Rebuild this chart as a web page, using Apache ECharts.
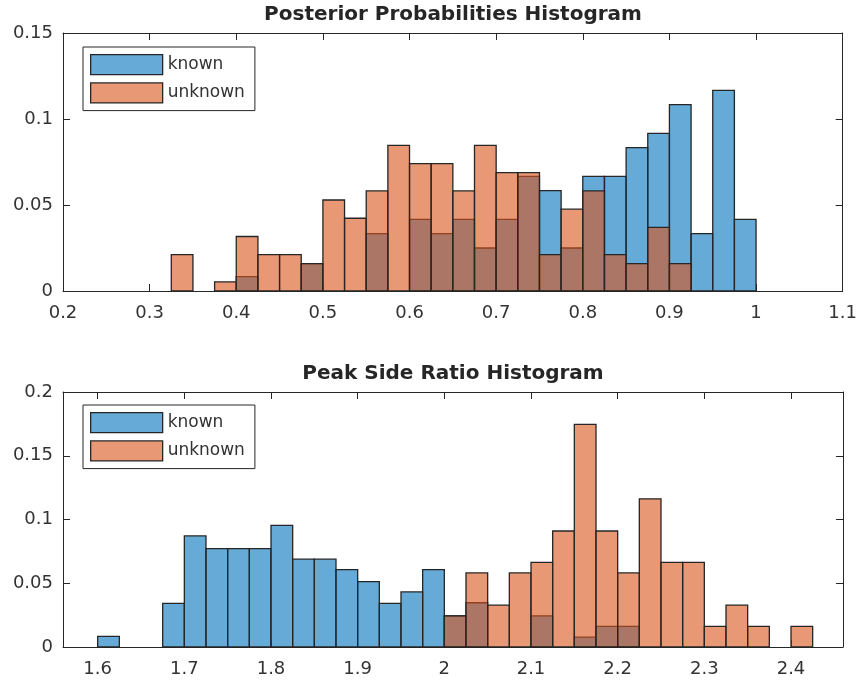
<!DOCTYPE html>
<html>
<head>
<meta charset="utf-8">
<script src="https://cdn.jsdelivr.net/npm/echarts@6/dist/echarts.min.js"></script>
<style>html,body{margin:0;padding:0;background:#fff}#chart{width:860px;height:685px}</style>
</head>
<body>
<div id="chart"></div>
<script>
// ---- Data ----
const seriesNames = ['known', 'unknown'];
const titles = ['Posterior Probabilities Histogram', 'Peak Side Ratio Histogram'];

// Posterior probabilities: bin starts (bin width 0.025) and normalized heights
const posteriorBins = [0.325,0.35,0.375,0.4,0.425,0.45,0.475,0.5,0.525,0.55,0.575,0.6,0.625,0.65,0.675,0.7,0.725,0.75,0.775,0.8,0.825,0.85,0.875,0.9,0.925,0.95,0.975];
const posteriorKnown = [0,0,0,0.0083,0,0,0.0159,0,0,0.0333,0,0.0417,0.0333,0.0417,0.025,0.0417,0.0667,0.0583,0.025,0.0667,0.0667,0.0833,0.0917,0.1083,0.0333,0.1167,0.0417];
const posteriorUnknown = [0.0212,0,0.0053,0.0317,0.0212,0.0212,0.0159,0.0529,0.0423,0.0582,0.0847,0.0741,0.0741,0.0582,0.0847,0.0688,0.0688,0.0212,0.0476,0.0582,0.0212,0.0159,0.037,0.0159,0,0,0];

// Peak side ratio
const ratioBins = [1.6,1.625,1.65,1.675,1.7,1.725,1.75,1.775,1.8,1.825,1.85,1.875,1.9,1.925,1.95,1.975,2.0,2.025,2.05,2.075,2.1,2.125,2.15,2.175,2.2,2.225,2.25,2.275,2.3,2.325,2.35,2.375,2.4];
const ratioKnown = [0.0083,0,0,0.0342,0.0871,0.0771,0.0771,0.0771,0.0954,0.0689,0.0689,0.0607,0.0512,0.0342,0.0432,0.0607,0.0244,0.0347,0,0,0.0244,0,0.0077,0.0162,0.0162,0,0,0,0,0,0,0,0];
const ratioUnknown = [0,0,0,0,0,0,0,0,0,0,0,0,0,0,0,0,0.0244,0.0581,0.0329,0.0581,0.0663,0.091,0.1746,0.091,0.0581,0.1162,0.0663,0.0663,0.0162,0.0329,0.0162,0,0.0162];

// Tick labels
const topXTicks = [0.2,0.3,0.4,0.5,0.6,0.7,0.8,0.9,1,1.1];
const topYTicks = [0,0.05,0.1,0.15];
const botXTicks = [1.6,1.7,1.8,1.9,2,2.1,2.2,2.3,2.4];
const botYTicks = [0,0.05,0.1,0.15,0.2];

// ---- Styling ----
const BIN_W = 0.025;
const FILL = ['rgba(0,114,189,0.6)', 'rgba(217,83,25,0.6)'];
const EDGE = '#262626';
const AX = '#262626';
const FONT = 'DejaVu Sans';

function renderer(fill) {
  return function (params, api) {
    const x0 = api.value(0), h = api.value(1);
    if (!(h > 0)) return null;
    const p0 = api.coord([x0, h]);
    const p1 = api.coord([x0 + BIN_W, 0]);
    return {
      type: 'rect',
      shape: { x: p0[0], y: p0[1], width: p1[0] - p0[0], height: p1[1] - p0[1] },
      style: { fill: fill, stroke: EDGE, lineWidth: 1.3 }
    };
  };
}

function pairs(bins, vals) { return bins.map((b, i) => [b, vals[i]]); }

function xAxisDef(grid, min, max, ticks, pos) {
  const isMain = pos === 'bottom';
  return {
    type: 'value', gridIndex: grid, min: min, max: max, position: pos,
    splitLine: { show: false },
    axisLine: { show: true, onZero: false, lineStyle: { color: AX, width: 1 } },
    axisTick: { show: true, inside: true, length: 7, customValues: ticks, lineStyle: { color: AX, width: 1 } },
    axisLabel: { show: isMain, customValues: ticks, margin: 13, color: '#333', fontFamily: FONT, fontSize: 18, formatter: v => String(v) }
  };
}
function yAxisDef(grid, min, max, ticks, pos) {
  const isMain = pos === 'left';
  return {
    type: 'value', gridIndex: grid, min: min, max: max, position: pos,
    splitLine: { show: false },
    axisLine: { show: true, onZero: false, lineStyle: { color: AX, width: 1 } },
    axisTick: { show: true, inside: true, length: 7, customValues: ticks, lineStyle: { color: AX, width: 1 } },
    axisLabel: { show: isMain, customValues: ticks, margin: 10, color: '#333', fontFamily: FONT, fontSize: 18, formatter: v => String(v) }
  };
}

function legendDef(top) {
  return {
    orient: 'vertical', left: 83, top: top,
    padding: [7, 10, 7, 7], itemGap: 7,
    itemWidth: 72, itemHeight: 20, icon: 'rect',
    borderColor: AX, borderWidth: 1, backgroundColor: '#fff',
    selectedMode: false,
    textStyle: { fontFamily: FONT, fontSize: 17, color: '#333' },
    data: seriesNames.map((n, i) => ({ name: n, itemStyle: { color: FILL[i], borderColor: EDGE, borderWidth: 1.3 } }))
  };
}

const chart = echarts.init(document.getElementById('chart'), null, { renderer: 'canvas' });
const option = {
  animation: false,
  backgroundColor: '#fff',
  title: [
    { text: titles[0], left: 453, top: 5, textAlign: 'center', padding: 0, textStyle: { fontFamily: FONT, fontSize: 20, fontWeight: 'bold', color: '#262626' } },
    { text: titles[1], left: 453, top: 364, textAlign: 'center', padding: 0, textStyle: { fontFamily: FONT, fontSize: 20, fontWeight: 'bold', color: '#262626' } }
  ],
  grid: [
    { left: 63, top: 33, width: 780, height: 258 },
    { left: 63, top: 392, width: 780, height: 255 }
  ],
  legend: [legendDef(47), legendDef(405)],
  xAxis: [
    xAxisDef(0, 0.2, 1.1, topXTicks, 'bottom'),
    xAxisDef(0, 0.2, 1.1, topXTicks, 'top'),
    xAxisDef(1, 1.56, 2.46, botXTicks, 'bottom'),
    xAxisDef(1, 1.56, 2.46, botXTicks, 'top')
  ],
  yAxis: [
    yAxisDef(0, 0, 0.15, topYTicks, 'left'),
    yAxisDef(0, 0, 0.15, topYTicks, 'right'),
    yAxisDef(1, 0, 0.2, botYTicks, 'left'),
    yAxisDef(1, 0, 0.2, botYTicks, 'right')
  ],
  series: [
    { type: 'custom', name: 'known', xAxisIndex: 0, yAxisIndex: 0, renderItem: renderer(FILL[0]), itemStyle: { color: FILL[0] }, data: pairs(posteriorBins, posteriorKnown) },
    { type: 'custom', name: 'unknown', xAxisIndex: 0, yAxisIndex: 0, renderItem: renderer(FILL[1]), itemStyle: { color: FILL[1] }, data: pairs(posteriorBins, posteriorUnknown) },
    { type: 'custom', name: 'known', xAxisIndex: 2, yAxisIndex: 2, renderItem: renderer(FILL[0]), itemStyle: { color: FILL[0] }, data: pairs(ratioBins, ratioKnown) },
    { type: 'custom', name: 'unknown', xAxisIndex: 2, yAxisIndex: 2, renderItem: renderer(FILL[1]), itemStyle: { color: FILL[1] }, data: pairs(ratioBins, ratioUnknown) }
  ]
};
chart.setOption(option);
</script>
</body>
</html>
